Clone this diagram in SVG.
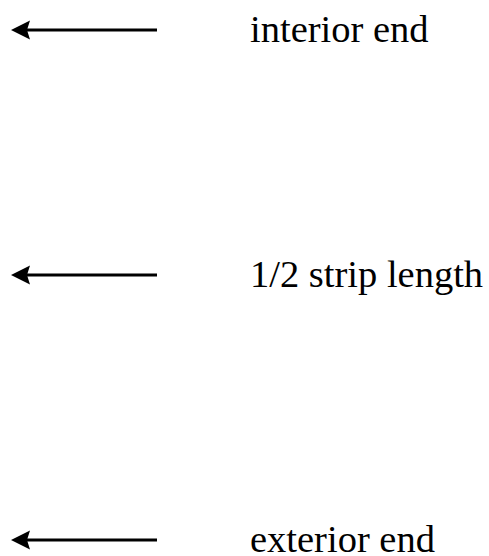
<svg xmlns="http://www.w3.org/2000/svg" width="489" height="556" viewBox="0 0 489 556">
<style>
.c{stroke:#000;stroke-width:3;fill:none}
.t{font-family:"Liberation Serif","Times New Roman",serif;font-size:38.5px;fill:#000}
</style>
<defs>
<marker id="ah" markerUnits="userSpaceOnUse" markerWidth="22" markerHeight="22" refX="10" refY="10" orient="auto">
<path d="M0,0.5 L19,10 L0,19.5 L3,10 Z" fill="#000"/>
</marker>
</defs>
<rect width="489" height="556" fill="#fff"/>
<g id="connectors">
<line class="c" x1="157" y1="30" x2="20" y2="30" marker-end="url(#ah)"/>
<line class="c" x1="157" y1="275" x2="20" y2="275" marker-end="url(#ah)"/>
<line class="c" x1="157" y1="540" x2="20" y2="540" marker-end="url(#ah)"/>
</g>
<g id="interior"><text class="t" x="250" y="42">interior end</text></g>
<g id="half"><text class="t" x="250" y="287">1/2 strip length</text></g>
<g id="exterior"><text class="t" x="250" y="552">exterior end</text></g>
</svg>
